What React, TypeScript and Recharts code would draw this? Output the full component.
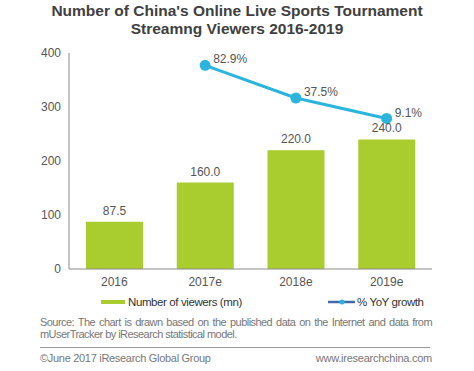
import React from 'react';
import {
  ComposedChart,
  Bar,
  Line,
  XAxis,
  YAxis,
  LabelList
} from 'recharts';

const years = ['2016', '2017e', '2018e', '2019e'];
const viewers = [87.5, 160.0, 220.0, 240.0];
const yoyGrowth: (number | null)[] = [null, 82.9, 37.5, 9.1];
const leftTicks = [0, 100, 200, 300, 400];

const GREEN = '#A9CC2E';
const BLUE = '#2BB4DD';
const FONT = 'Arial, "Liberation Sans", sans-serif';

const chartData = years.map((year, i) => ({
  year,
  viewers: viewers[i],
  yoy: yoyGrowth[i]
}));

const GrowthLabel = (props: any) => {
  const { x, y, value } = props;
  if (value == null) return null;
  return (
    <text x={x + 8} y={y - 5} fontSize={12} fill="#555" fontFamily={FONT} dominantBaseline="middle">
      {value.toFixed(1)}%
    </text>
  );
};

const App: React.FC = () => {
  return (
    <div
      style={{
        position: 'absolute',
        left: 0,
        top: 0,
        width: 474,
        height: 371,
        background: '#fff',
        fontFamily: FONT,
        overflow: 'hidden'
      }}
    >
      <div
        style={{
          position: 'absolute',
          top: 2,
          left: 0,
          width: 474,
          textAlign: 'center',
          fontWeight: 'bold',
          fontSize: 15.5,
          lineHeight: '18px',
          color: '#404040'
        }}
      >
        Number of China's Online Live Sports Tournament
        <br />
        Streamng Viewers 2016-2019
      </div>

      <div style={{ position: 'absolute', left: 0, top: 0 }}>
        <ComposedChart
          width={474}
          height={300}
          data={chartData}
          margin={{ top: 53, right: 42, left: 0, bottom: 1 }}
        >
          <XAxis
            dataKey="year"
            tickLine={false}
            axisLine={{ stroke: '#8a8a8a' }}
            tick={{ fontSize: 12, fill: '#555', fontFamily: FONT }}
            height={30}
          />
          <YAxis
            yAxisId="left"
            width={69}
            domain={[0, 400]}
            ticks={leftTicks}
            tickLine={false}
            axisLine={{ stroke: '#8a8a8a' }}
            tick={{ fontSize: 12, fill: '#555', fontFamily: FONT }}
          />
          <YAxis yAxisId="right" orientation="right" hide domain={[-200, 100]} />
          <Bar yAxisId="left" dataKey="viewers" fill={GREEN} barSize={57} isAnimationActive={false}>
            <LabelList
              dataKey="viewers"
              position="top"
              offset={7}
              formatter={(v: any) => Number(v).toFixed(1)}
              style={{ fontSize: 12, fill: '#555', fontFamily: FONT }}
            />
          </Bar>
          <Line
            yAxisId="right"
            dataKey="yoy"
            stroke={BLUE}
            strokeWidth={3}
            dot={{ r: 4, fill: BLUE, stroke: BLUE }}
            connectNulls={false}
            isAnimationActive={false}
          >
            <LabelList dataKey="yoy" content={<GrowthLabel />} />
          </Line>
        </ComposedChart>
      </div>

      <div style={{ position: 'absolute', top: 296, left: 101, display: 'flex', alignItems: 'center', fontSize: 11.5, letterSpacing: '-0.4px', color: '#333' }}>
        <span style={{ display: 'inline-block', width: 24, height: 4, background: GREEN, marginRight: 3 }} />
        Number of viewers (mn)
      </div>
      <div style={{ position: 'absolute', top: 296, left: 328, display: 'flex', alignItems: 'center', fontSize: 11.5, letterSpacing: '-0.4px', color: '#333' }}>
        <svg width={27} height={8} style={{ marginRight: 2 }}>
          <line x1={0} y1={4} x2={27} y2={4} stroke="#4468a8" strokeWidth={2.5} />
          <circle cx={14} cy={4} r={2.5} fill={BLUE} />
        </svg>
        % YoY growth
      </div>

      <div
        style={{
          position: 'absolute',
          top: 316,
          left: 40,
          width: 392,
          fontSize: 11,
          lineHeight: '12px',
          letterSpacing: '-0.55px',
          color: '#777',
          textAlign: 'justify',
          textAlignLast: 'left'
        }}
      >
        Source: The chart is drawn based on the published data on the Internet and data from mUserTracker by iResearch statistical model.
      </div>
      <div style={{ position: 'absolute', top: 347, left: 40, width: 390, height: 1, background: '#999' }} />
      <div style={{ position: 'absolute', top: 352, left: 40, fontSize: 11, letterSpacing: '-0.3px', color: '#777' }}>
        ©June 2017 iResearch Global Group
      </div>
      <div style={{ position: 'absolute', top: 352, right: 42, fontSize: 11, letterSpacing: '-0.25px', color: '#777' }}>
        www.iresearchchina.com
      </div>
    </div>
  );
};

export default App;
